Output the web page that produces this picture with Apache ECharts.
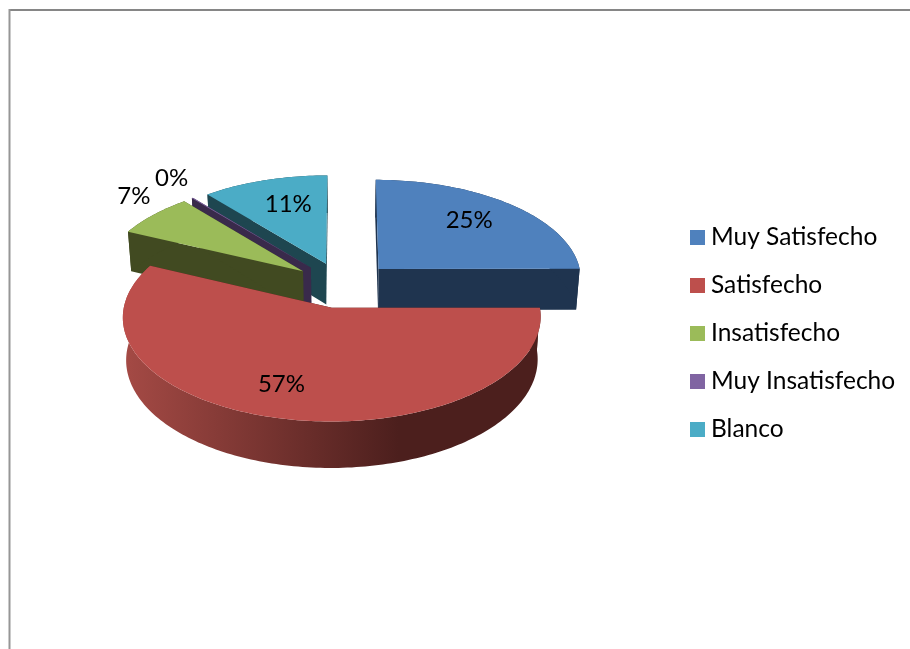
<!DOCTYPE html>
<html>
<head>
<meta charset="utf-8">
<title>Satisfaccion</title>
<style>
	html, body { margin: 0; padding: 0; background: #fff; }
	#main { width: 910px; height: 649px; }
</style>
<script src="https://cdn.jsdelivr.net/npm/echarts@6/dist/echarts.min.js"></script>
</head>
<body>
<div id="main"></div>
<script>
var categories = ['Muy Satisfecho', 'Satisfecho', 'Insatisfecho', 'Muy Insatisfecho', 'Blanco'];
var values = [25, 57, 7, 0.1, 11];

var topColors = ['#4f81bd', '#bd4f4c', '#9bbb59', '#8064a2', '#4bacc6'];
var sideColors = ['#1f344f', '#4c1f1d', '#414a21', '#392a4b', '#1e4650'];
// z order, back slices first
var drawOrder = [4, 5, 3, 2, 1];
// label distance from the slice vertex, 1 = rim
var labelRadius = [0.715, 0.73, 1.23, 1.26, 0.69];
var labelShift = [-0.05, 0.095, 0.08, 0.04, 0.045];

// fake 3d pie settings
var cx = 343, cy = 285, R = 204, explodeX = 51, explodeY = 47;
var tilt = 0.488, persp = 0.087, depth = 41.5, bottomScale = 0.985;

var total = 0;
for(var i = 0; i < values.length; i++) {
	total += values[i];
}

function project(u, v, lower) {
	var s = 1 / (1 - persp * v / R);
	var x = cx + u * s;
	var y = cy + v * tilt * s;
	if(lower) {
		x = cx + (x - cx) * bottomScale;
		y += depth * s;
	}
	return [x, y];
}

function sliceAngles(idx) {
	var start = 0;
	for(var i = 0; i < idx; i++) {
		start += values[i] / total * Math.PI * 2;
	}
	return [start, start + values[idx] / total * Math.PI * 2];
}

function makeRender(idx) {
	return function() {
		var ang = sliceAngles(idx);
		var mid = (ang[0] + ang[1]) / 2;
		var ou = explodeX * Math.sin(mid);
		var ov = -explodeY * Math.cos(mid);

		function rim(a, lower) {
			return project(ou + R * Math.sin(a), ov - R * Math.cos(a), lower);
		}
		var steps = Math.max(2, Math.ceil((ang[1] - ang[0]) / 0.02));
		var topArc = [], lowArc = [];
		for(var k = 0; k <= steps; k++) {
			var a = ang[0] + (ang[1] - ang[0]) * k / steps;
			topArc.push(rim(a, false));
			lowArc.push(rim(a, true));
		}
		var vTop = project(ou, ov, false);
		var vLow = project(ou, ov, true);

		var side = sideColors[idx];
		var wallFill = side;
		if(categories[idx] == 'Satisfecho') {
			wallFill = new echarts.graphic.LinearGradient(0, 0, 1, 0, [
				{offset: 0, color: '#a54a45'},
				{offset: 0.66, color: '#4c1f1d'},
				{offset: 1, color: '#4c1f1d'}
			]);
		}
		var children = [];
		children.push({
			type: 'polygon',
			shape: {points: [vTop, topArc[0], lowArc[0], vLow]},
			style: {fill: side}
		});
		children.push({
			type: 'polygon',
			shape: {points: [vTop, topArc[steps], lowArc[steps], vLow]},
			style: {fill: side}
		});
		children.push({
			type: 'polygon',
			shape: {points: topArc.concat(lowArc.slice().reverse())},
			style: {fill: wallFill}
		});
		children.push({
			type: 'polygon',
			shape: {points: [vTop].concat(topArc)},
			style: {fill: topColors[idx]}
		});
		var lr = R * labelRadius[idx];
		var lp = project(ou + lr * Math.sin(mid + labelShift[idx]), ov - lr * Math.cos(mid + labelShift[idx]), false);
		children.push({
			type: 'text',
			style: {
				text: Math.round(values[idx] / total * 100) + '%',
				x: lp[0],
				y: lp[1],
				fill: '#000',
				font: '24px Lato',
				align: 'center',
				verticalAlign: 'middle'
			}
		});
		return {type: 'group', children: children};
	};
}

var series = [];
for(var i = 0; i < categories.length; i++) {
	series.push({
		name: categories[i],
		type: 'custom',
		coordinateSystem: 'none',
		silent: true,
		z: drawOrder[i],
		itemStyle: {color: topColors[i]},
		data: [[values[i]]],
		renderItem: makeRender(i)
	});
}

var option = {
	animation: false,
	backgroundColor: '#fff',
	legend: {
		orient: 'vertical',
		left: 685,
		top: 220,
		itemWidth: 15,
		itemHeight: 15,
		itemGap: 23,
		selectedMode: false,
		icon: 'rect',
		data: categories,
		textStyle: {
			fontFamily: 'Lato',
			fontSize: 24.5,
			color: '#000',
			padding: [0, 0, 0, 1],
			lineHeight: 24
		}
	},
	graphic: [{
		type: 'line',
		silent: true,
		shape: {x1: 10, y1: 10, x2: 910, y2: 10},
		style: {stroke: '#868686', lineWidth: 2}
	}, {
		type: 'line',
		silent: true,
		shape: {x1: 9.5, y1: 9, x2: 9.5, y2: 649},
		style: {stroke: '#969696', lineWidth: 2}
	}],
	series: series
};

var chart = echarts.init(document.getElementById('main'));
chart.setOption(option);
</script>
</body>
</html>
